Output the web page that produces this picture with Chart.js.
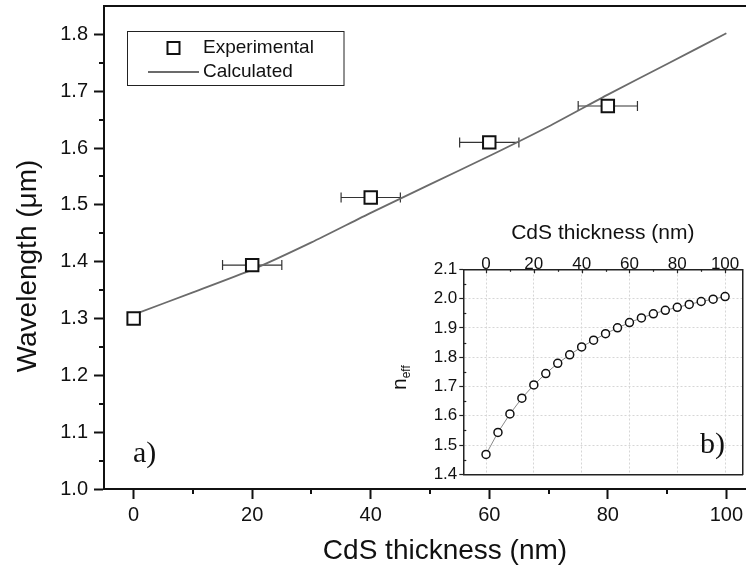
<!DOCTYPE html>
<html><head><meta charset="utf-8">
<script src="https://cdn.jsdelivr.net/npm/chart.js@4.4.0/dist/chart.umd.min.js"></script>
<style>
html,body{margin:0;padding:0;background:#fff;overflow:hidden;width:746px;height:571px;}
#wrap{position:relative;width:746px;height:571px;overflow:hidden;}
#main{position:absolute;left:0;top:0;}
#inset{position:absolute;left:380px;top:215px;}
</style></head><body>
<div id="wrap">
<canvas id="main" width="760" height="571" style="width:760px;height:571px"></canvas>
<canvas id="inset" width="366" height="275" style="width:366px;height:275px"></canvas>
</div>
<script>
// ---- data: main panel a) ----
const thickness = [0, 20, 40, 60, 80];
const wavelengthExp = [1.300, 1.394, 1.513, 1.610, 1.674];
const thicknessErr = [0, 5, 5, 5, 5];
const calcThickness = [0, 10, 20, 30, 40, 50, 60, 70, 80, 90, 100];
const wavelengthCalc = [1.307, 1.346, 1.386, 1.434, 1.486, 1.536, 1.586, 1.638, 1.694, 1.748, 1.802];
const xTicks = [0, 20, 40, 60, 80, 100];
const xMinorTicks = [10, 30, 50, 70, 90];
const yTicks = [1.0, 1.1, 1.2, 1.3, 1.4, 1.5, 1.6, 1.7, 1.8];
const yMinorTicks = [1.05, 1.15, 1.25, 1.35, 1.45, 1.55, 1.65, 1.75];
const xTitle = 'CdS thickness (nm)';
const yTitle = 'Wavelength (\u03bcm)';

// ---- data: inset b) ----
const neffThickness = [0, 5, 10, 15, 20, 25, 30, 35, 40, 45, 50, 55, 60, 65, 70, 75, 80, 85, 90, 95, 100];
const neffValues = [1.468, 1.543, 1.606, 1.660, 1.705, 1.744, 1.779, 1.808, 1.835, 1.858, 1.880, 1.900, 1.918, 1.934, 1.948, 1.960, 1.970, 1.980, 1.990, 1.998, 2.007];
const insetXTicks = [0, 20, 40, 60, 80, 100];
const insetXMinorTicks = [10, 30, 50, 70, 90];
const insetYTicks = [1.4, 1.5, 1.6, 1.7, 1.8, 1.9, 2.0, 2.1];
const insetYMinorTicks = [1.45, 1.55, 1.65, 1.75, 1.85, 1.95, 2.05];

const SANS = "'Liberation Sans', Arial, sans-serif";
const SERIF = "'Liberation Serif', 'Times New Roman', serif";
const INK = '#111';

function noPad(s) {
  s.paddingLeft = 0; s.paddingRight = 0; s.paddingTop = 0; s.paddingBottom = 0;
}

const mainPlugin = {
  id: 'mainExtras',
  beforeDatasetsDraw(chart) {
    const ctx = chart.ctx, xs = chart.scales.x, ys = chart.scales.y;
    ctx.save();
    ctx.strokeStyle = '#333';
    ctx.lineWidth = 1.2;
    thickness.forEach((t, i) => {
      const e = thicknessErr[i];
      if (!e) return;
      const x1 = xs.getPixelForValue(t - e), x2 = xs.getPixelForValue(t + e);
      const y = ys.getPixelForValue(wavelengthExp[i]);
      ctx.beginPath();
      ctx.moveTo(x1, y); ctx.lineTo(x2, y);
      ctx.moveTo(x1, y - 5); ctx.lineTo(x1, y + 5);
      ctx.moveTo(x2, y - 5); ctx.lineTo(x2, y + 5);
      ctx.stroke();
    });
    ctx.restore();
  },
  afterDraw(chart) {
    const ctx = chart.ctx, xs = chart.scales.x, ys = chart.scales.y;
    const area = chart.chartArea;
    ctx.save();
    // minor ticks
    ctx.strokeStyle = INK; ctx.lineWidth = 2;
    xMinorTicks.forEach(v => {
      const px = Math.round(xs.getPixelForValue(v));
      ctx.beginPath(); ctx.moveTo(px, area.bottom); ctx.lineTo(px, area.bottom + 5); ctx.stroke();
    });
    yMinorTicks.forEach(v => {
      const py = Math.round(ys.getPixelForValue(v));
      ctx.beginPath(); ctx.moveTo(area.left - 5, py); ctx.lineTo(area.left, py); ctx.stroke();
    });
    // legend
    const ds = chart.data.datasets;
    ctx.lineWidth = 1; ctx.strokeStyle = '#222';
    ctx.strokeRect(127.5, 31.5, 216.5, 54);
    ctx.fillStyle = '#fff'; ctx.lineWidth = 2; ctx.strokeStyle = INK;
    ctx.fillRect(167.5, 42, 12, 12); ctx.strokeRect(167.5, 42, 12, 12);
    ctx.strokeStyle = ds[1].borderColor; ctx.lineWidth = 1.8;
    ctx.beginPath(); ctx.moveTo(148, 72); ctx.lineTo(199, 72); ctx.stroke();
    ctx.fillStyle = INK; ctx.font = '19px ' + SANS; ctx.textBaseline = 'middle'; ctx.textAlign = 'left';
    ctx.fillText(ds[0].label, 203, 48);
    ctx.fillText(ds[1].label, 203, 72);
    // axis titles
    ctx.font = '28px ' + SANS; ctx.textAlign = 'center'; ctx.textBaseline = 'alphabetic';
    ctx.fillText(xTitle, 445, 559);
    ctx.save();
    ctx.translate(36, 266); ctx.rotate(-Math.PI / 2);
    ctx.fillText(yTitle, 0, 0);
    ctx.restore();
    // panel label
    ctx.textAlign = 'left';
    ctx.font = '30px ' + SERIF;
    ctx.fillText('a)', 133, 462);
    ctx.restore();
  }
};

new Chart(document.getElementById('main'), {
  type: 'scatter',
  data: {
    datasets: [
      { label: 'Experimental', data: thickness.map((x, i) => ({x, y: wavelengthExp[i]})),
        pointStyle: 'rect', pointRadius: 8.8, pointBorderWidth: 2, pointBackgroundColor: '#fff',
        pointBorderColor: INK, showLine: false, order: 0 },
      { label: 'Calculated', type: 'line', data: calcThickness.map((x, i) => ({x, y: wavelengthCalc[i]})),
        borderColor: '#6b6b6b', borderWidth: 1.8, pointRadius: 0, fill: false, tension: 0.2, order: 1 }
    ]
  },
  options: {
    responsive: false, animation: false, devicePixelRatio: 1,
    layout: { autoPadding: false, padding: { left: 0, right: 4, top: 0, bottom: 0 } },
    plugins: { legend: { display: false }, tooltip: { enabled: false } },
    scales: {
      x: {
        type: 'linear', position: 'bottom', min: -5, max: 105,
        afterBuildTicks: s => { s.ticks = xTicks.map(v => ({ value: v })); },
        afterFit: s => { s.height = 82; noPad(s); },
        ticks: { font: { family: SANS, size: 20 }, color: INK, padding: 4, maxRotation: 0, callback: v => String(v) },
        grid: { drawOnChartArea: false, drawTicks: true, tickLength: 10, tickWidth: 2, tickColor: INK },
        border: { display: true, width: 2, color: INK }
      },
      y: {
        type: 'linear', position: 'left', min: 1.0, max: 1.85,
        afterBuildTicks: s => { s.ticks = yTicks.map(v => ({ value: v })); },
        afterFit: s => { s.width = 104; noPad(s); },
        ticks: { font: { family: SANS, size: 20 }, color: INK, padding: 6, callback: v => Number(v).toFixed(1) },
        grid: { drawOnChartArea: false, drawTicks: true, tickLength: 10, tickWidth: 2, tickColor: INK },
        border: { display: true, width: 2, color: INK }
      },
      xTop: {
        type: 'linear', position: 'top', min: -5, max: 105, display: true,
        ticks: { display: false },
        grid: { display: true, drawOnChartArea: false, drawTicks: false },
        border: { display: true, width: 2, color: INK },
        afterFit: s => { s.height = 6; noPad(s); }
      }
    }
  },
  plugins: [mainPlugin]
});

const insetPlugin = {
  id: 'insetExtras',
  beforeDraw(chart) {
    const a = chart.chartArea, ctx = chart.ctx;
    ctx.save(); ctx.fillStyle = '#fff';
    ctx.fillRect(a.left, a.top, a.right - a.left, a.bottom - a.top);
    ctx.restore();
  },
  afterDraw(chart) {
    const ctx = chart.ctx, xs = chart.scales.xt, ys = chart.scales.y, a = chart.chartArea;
    ctx.save();
    ctx.strokeStyle = '#222'; ctx.lineWidth = 1.2;
    insetXTicks.forEach(v => {
      const px = Math.round(xs.getPixelForValue(v)) + 0.5;
      ctx.beginPath(); ctx.moveTo(px, a.top); ctx.lineTo(px, a.top + 4); ctx.stroke();
    });
    insetXMinorTicks.forEach(v => {
      const px = Math.round(xs.getPixelForValue(v)) + 0.5;
      ctx.beginPath(); ctx.moveTo(px, a.top); ctx.lineTo(px, a.top + 2.5); ctx.stroke();
    });
    insetYMinorTicks.forEach(v => {
      const py = Math.round(ys.getPixelForValue(v)) + 0.5;
      ctx.beginPath(); ctx.moveTo(a.left, py); ctx.lineTo(a.left + 3, py); ctx.stroke();
    });
    // n_eff axis label (with subscript)
    ctx.fillStyle = INK;
    ctx.translate(26, 175);
    ctx.rotate(-Math.PI / 2);
    ctx.textBaseline = 'alphabetic'; ctx.textAlign = 'left';
    ctx.font = '21px ' + SANS;
    ctx.fillText('n', 0, 0);
    const w = ctx.measureText('n').width;
    ctx.font = '12px ' + SANS;
    ctx.fillText('eff', w, 4);
    ctx.setTransform(1, 0, 0, 1, 0, 0);
    ctx.font = '30px ' + SERIF;
    ctx.fillText('b)', 320, 238);
    ctx.restore();
  }
};

const frameBorder = { display: true, width: 1.5, color: '#222' };
new Chart(document.getElementById('inset'), {
  type: 'scatter',
  data: {
    datasets: [{
      label: 'n_eff', data: neffThickness.map((x, i) => ({ x, y: neffValues[i] })),
      showLine: true, borderColor: '#8a8a8a', borderWidth: 1,
      pointStyle: 'circle', pointRadius: 4, pointBorderWidth: 1.5,
      pointBorderColor: INK, pointBackgroundColor: '#fff', xAxisID: 'xt', yAxisID: 'y'
    }]
  },
  options: {
    responsive: false, animation: false, devicePixelRatio: 1,
    layout: { autoPadding: false, padding: 0 },
    plugins: { legend: { display: false }, tooltip: { enabled: false } },
    scales: {
      xt: {
        type: 'linear', position: 'top', min: -9.5, max: 107.2,
        afterBuildTicks: s => { s.ticks = insetXTicks.map(v => ({ value: v })); },
        afterFit: s => { s.height = 54.3; noPad(s); },
        ticks: { font: { family: SANS, size: 17 }, color: INK, padding: -5, maxRotation: 0, callback: v => String(v) },
        grid: { drawOnChartArea: true, drawTicks: false, color: '#d6d6d6', lineWidth: 1 },
        border: { display: true, width: 1.5, color: '#222', dash: [2, 2] },
        title: { display: true, text: xTitle, color: INK, font: { family: SANS, size: 21 }, padding: { top: 6, bottom: 0 } }
      },
      xb: {
        type: 'linear', position: 'bottom', min: -9.5, max: 107.2,
        ticks: { display: false }, grid: { drawOnChartArea: false, drawTicks: false },
        border: frameBorder, afterFit: s => { s.height = 15.7; noPad(s); }
      },
      y: {
        type: 'linear', position: 'left', min: 1.4, max: 2.1,
        afterBuildTicks: s => { s.ticks = insetYTicks.map(v => ({ value: v })); },
        afterFit: s => { s.width = 83.3; noPad(s); },
        ticks: { font: { family: SANS, size: 17 }, color: INK, padding: 2, callback: v => Number(v).toFixed(1) },
        grid: { drawOnChartArea: true, drawTicks: true, tickLength: 4, tickWidth: 1.2, tickColor: '#222', tickBorderDash: [], color: '#d6d6d6', lineWidth: 1 },
        border: { display: true, width: 1.5, color: '#222', dash: [2, 2] }
      },
      yr: {
        type: 'linear', position: 'right', min: 1.4, max: 2.1,
        ticks: { display: false }, grid: { drawOnChartArea: false, drawTicks: false },
        border: frameBorder, afterFit: s => { s.width = 3.7; noPad(s); }
      }
    }
  },
  plugins: [insetPlugin]
});
</script>
</body></html>
